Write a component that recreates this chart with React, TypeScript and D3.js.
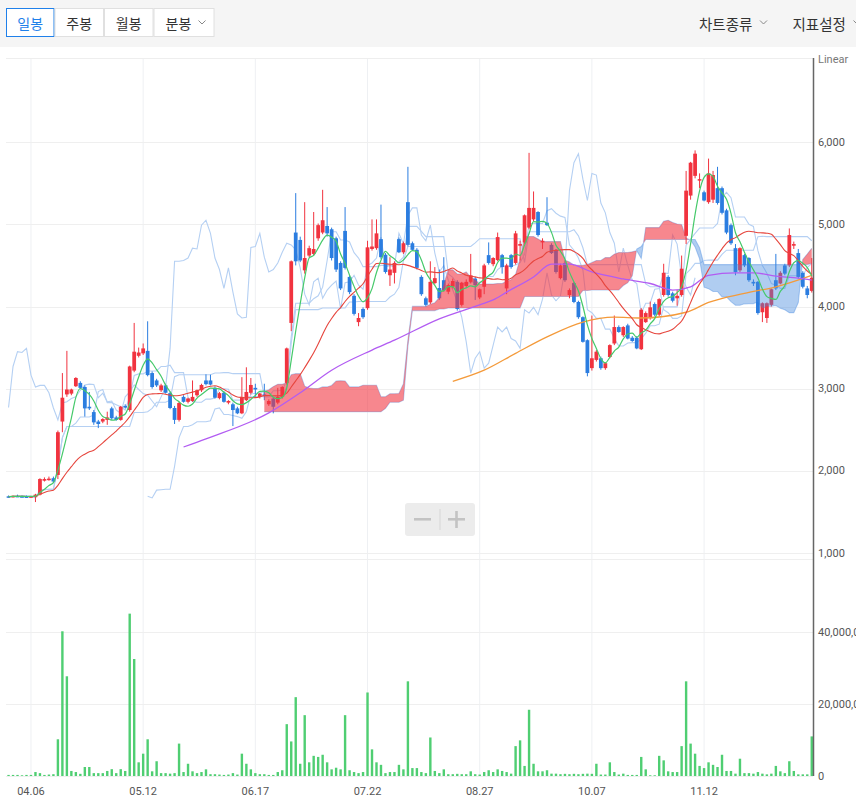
import React from 'react';
import * as d3 from 'd3';

// ---------- DATA ----------
const OPEN = [
  1690, 1685, 1695, 1690, 1688, 1680, 1680, 1710, 1880, 1890,
  1910, 1950, 2600, 2930, 2940, 3030, 3070, 3020, 2780, 2715,
  2600, 2600, 2620, 2760, 2650, 2620, 2790, 2740, 3220, 3400,
  3430, 3460, 3190, 3100, 2980, 3040, 2945, 2765, 2620, 2900,
  2840, 2850, 2920, 2980, 3100, 3100, 3010, 2885, 2950, 2830,
  2810, 2760, 2700, 2860, 2950, 3010, 2900, 2930, 2810, 2880,
  2830, 2900, 3070, 3800, 4900, 4810, 4440, 4620, 4640, 4830,
  4900, 4980, 4940, 4830, 4530, 4920, 4360, 4130, 3810, 3970,
  3980, 4700, 4710, 4820, 4630, 4380, 4410, 4820, 4660, 5270,
  4770, 4690, 4360, 4100, 4050, 4285, 4225, 4320, 4180, 4240,
  4300, 4020, 4250, 4300, 4340, 4110, 4240, 4625, 4515, 4565,
  4625, 4220, 4625, 4530, 4740, 4780, 4960, 5060, 5150, 4780,
  5020, 4750, 4690, 4345, 4530, 4140, 4285, 4055, 3870, 3590,
  3250, 3350, 3370, 3250, 3385, 3550, 3750, 3650, 3770, 3620,
  3620, 3480, 3810, 3860, 4030, 3900, 4140, 4360, 4160, 4100,
  4140, 4860, 5350, 5590, 5540, 5390, 5270, 5300, 5440, 5440,
  5170, 4990, 4710, 4440, 4625, 4590, 4300, 4300, 3930, 3860,
  4020, 4320, 4280, 4500, 4500, 4740, 4650, 4410, 4220, 4190,
];
const HIGH = [
  1700, 1700, 1710, 1700, 1700, 1695, 1720, 1910, 1920, 1930,
  1930, 2490, 3190, 3460, 3000, 3140, 3090, 3040, 2960, 2740,
  2620, 2640, 2720, 2780, 2670, 2790, 2810, 3280, 3800, 3500,
  3550, 3820, 3210, 3120, 3060, 3060, 2960, 2790, 2840, 2920,
  2890, 3100, 2990, 3060, 3175, 3170, 3030, 2960, 2970, 2860,
  2830, 2780, 3140, 3260, 3130, 3060, 2950, 3060, 2870, 2900,
  3010, 3030, 3500, 4560, 5380, 4850, 5270, 4740, 5150, 5010,
  5420, 5210, 4960, 4850, 4550, 5210, 4380, 4150, 3920, 3990,
  4800, 5060, 5060, 5240, 4650, 4600, 4550, 4840, 4790, 5700,
  4790, 4710, 4380, 4120, 4550, 4480, 4450, 4600, 4280, 4340,
  4320, 4300, 4330, 4640, 4360, 4220, 4520, 4780, 4600, 4900,
  4640, 4520, 4640, 4920, 4800, 5120, 5870, 5400, 5160, 4830,
  5330, 4770, 4700, 4520, 4560, 4220, 4300, 4070, 3880, 3600,
  3890, 3470, 3390, 3320, 3540, 3890, 3770, 3760, 3790, 3640,
  3640, 3980, 3940, 4060, 4050, 4100, 4520, 4380, 4180, 4200,
  4620, 5650, 5760, 5900, 5620, 5410, 5800, 5650, 5700, 5460,
  5190, 5010, 4760, 4720, 4640, 4600, 4330, 4310, 4050, 4050,
  4220, 4640, 4430, 4520, 4950, 4790, 4700, 4430, 4250, 4590,
];
const LOW = [
  1675, 1675, 1685, 1680, 1675, 1670, 1620, 1700, 1870, 1880,
  1850, 1900, 2470, 2900, 2920, 3020, 3000, 2660, 2740, 2560,
  2520, 2580, 2560, 2620, 2610, 2610, 2760, 2720, 3200, 3380,
  3410, 3150, 3000, 3020, 2960, 2940, 2750, 2570, 2600, 2830,
  2820, 2840, 2900, 2960, 3040, 3040, 2880, 2870, 2830, 2810,
  2545, 2690, 2690, 2850, 2930, 2900, 2880, 2860, 2790, 2700,
  2810, 2880, 3050, 3700, 4500, 4540, 4400, 4600, 4620, 4800,
  4880, 4850, 4560, 4420, 4200, 4450, 4150, 3890, 3760, 3850,
  3960, 4680, 4690, 4580, 4400, 4250, 4280, 4650, 4640, 4730,
  4680, 4450, 4130, 4000, 4030, 4270, 4080, 4180, 4150, 4220,
  3950, 4000, 4230, 4280, 4080, 4090, 4150, 4510, 4490, 4550,
  4400, 4150, 4460, 4510, 4560, 4760, 4940, 5040, 4850, 4700,
  4980, 4640, 4400, 4330, 4300, 4100, 4040, 3850, 3560, 3150,
  3220, 3330, 3230, 3230, 3370, 3530, 3680, 3630, 3600, 3570,
  3480, 3470, 3800, 3840, 3880, 3880, 4120, 4120, 4050, 4010,
  4120, 4760, 5300, 5560, 5440, 5280, 5250, 5260, 5240, 5120,
  4880, 4750, 4380, 4420, 4480, 4300, 4250, 3900, 3810, 3800,
  4000, 4200, 4270, 4380, 4480, 4700, 4340, 4220, 4100, 4170,
];
const CLOSE = [
  1685, 1695, 1690, 1688, 1680, 1690, 1710, 1900, 1900, 1905,
  1870, 2470, 2890, 2990, 2990, 3130, 3010, 2760, 2760, 2590,
  2570, 2630, 2650, 2640, 2620, 2780, 2770, 3270, 3450, 3440,
  3490, 3165, 3020, 3040, 3040, 2950, 2765, 2620, 2825, 2840,
  2880, 2900, 2980, 3045, 3055, 3050, 2890, 2945, 2840, 2850,
  2740, 2700, 2900, 2960, 3045, 2990, 2940, 2920, 2850, 2780,
  2900, 3020, 3490, 4550, 4550, 4560, 4590, 4710, 4700, 4990,
  5050, 4890, 4590, 4450, 4220, 4470, 4175, 3910, 3860, 3870,
  4720, 4730, 4890, 4600, 4420, 4450, 4530, 4660, 4770, 4750,
  4690, 4470, 4150, 4020, 4300, 4345, 4100, 4200, 4260, 4310,
  3970, 4290, 4300, 4380, 4260, 4210, 4500, 4530, 4590, 4845,
  4480, 4500, 4480, 4890, 4760, 5110, 5200, 5200, 4870, 4800,
  4990, 4650, 4420, 4500, 4320, 4200, 4055, 3870, 3570, 3190,
  3370, 3450, 3250, 3310, 3530, 3750, 3690, 3750, 3610, 3580,
  3490, 3960, 3920, 3990, 3900, 4090, 4410, 4140, 4070, 4130,
  4460, 5410, 5750, 5860, 5550, 5290, 5620, 5600, 5260, 5140,
  4900, 4770, 4420, 4710, 4500, 4320, 4280, 3920, 4040, 4040,
  4210, 4220, 4410, 4400, 4870, 4760, 4360, 4240, 4140, 4350,
];
// volume in millions of shares
const VOLUME_M = [
  0.3, 0.3, 0.3, 0.2, 0.3, 0.3, 1.1, 0.8, 0.3, 0.4,
  0.5, 10.2, 40.2, 27.7, 1.4, 1.1, 0.6, 2.5, 2.5, 0.8,
  0.8, 0.8, 1.4, 1.9, 0.8, 1.9, 1.4, 45.1, 32.5, 3.8,
  6.2, 10.2, 1.3, 4.1, 0.8, 0.8, 0.65, 0.8, 9.0, 1.1,
  3.4, 1.3, 0.8, 1.1, 1.85, 0.5, 0.5, 0.4, 0.3, 0.4,
  0.8, 0.4, 6.2, 3.4, 1.85, 0.8, 0.5, 0.5, 0.3, 0.3,
  1.1, 1.6, 14.4, 9.6, 21.9, 3.4, 16.9, 3.8, 5.6, 5.3,
  5.9, 3.8, 1.85, 2.3, 1.85, 16.9, 1.6, 1.1, 0.8, 1.1,
  23.2, 7.4, 3.8, 3.1, 0.8, 1.1, 1.1, 3.1, 1.85, 26.3,
  2.2, 2.2, 1.1, 0.8, 10.7, 1.4, 0.8, 1.85, 0.5, 0.5,
  0.6, 0.5, 0.5, 1.3, 0.5, 0.4, 1.1, 1.6, 1.1, 1.85,
  1.4, 1.1, 0.65, 8.3, 9.9, 2.8, 18.4, 3.4, 1.3, 1.3,
  1.6, 0.65, 0.65, 0.5, 0.6, 0.5, 0.6, 0.5, 0.6, 0.65,
  0.6, 3.4, 0.4, 0.4, 3.8, 1.1, 0.4, 0.65, 0.3, 0.3,
  0.3, 5.3, 1.85, 0.2, 0.2, 5.6, 4.35, 1.3, 1.1, 1.1,
  8.3, 26.3, 9.0, 6.2, 2.8, 2.2, 3.8, 3.1, 2.5, 5.9,
  1.4, 1.4, 0.65, 4.8, 0.8, 0.8, 0.65, 1.1, 0.65, 0.46,
  0.65, 2.8, 1.3, 0.8, 4.1, 1.4, 0.46, 0.46, 0.46, 11,
];
// long moving averages: [candle index, price]
const MA60_PTS: [number, number][] = [
  [39, 2290], [44, 2390], [58, 2705], [65, 2950], [72, 3225], [81, 3470],
  [86, 3590], [96, 3850], [105, 4020], [108, 4080], [111, 4175], [117, 4360],
  [121, 4515], [125, 4515], [130, 4420], [137, 4335], [143, 4280], [148, 4200],
  [152, 4240], [156, 4380], [162, 4410], [166, 4410], [171, 4370], [176, 4345], [179, 4320],
];
const MA120_PTS: [number, number][] = [
  [99, 3090], [106, 3225], [113, 3430], [120, 3630], [128, 3810], [135, 3870],
  [141, 3860], [151, 3930], [156, 4050], [164, 4160], [171, 4240], [179, 4380],
];
const DATE_TICK_INDEX = [5, 30, 55, 80, 105, 130, 155];
const DATE_TICK_LABELS = ['04.06', '05.12', '06.17', '07.22', '08.27', '10.07', '11.12'];
const PRICE_TICKS = [1000, 2000, 3000, 4000, 5000, 6000];
const VOLUME_TICKS_M = [0, 20, 40];
const PERIOD_TABS = ['일봉', '주봉', '월봉', '분봉'];
const RIGHT_MENUS = ['차트종류', '지표설정'];

// ---------- helpers ----------
const sma = (vals: number[], n: number) =>
  vals.map((_, i) => d3.mean(vals.slice(Math.max(0, i - n + 1), i + 1)) as number);
const mid = (i: number, n: number) => {
  const a = Math.max(0, i - n + 1);
  return ((d3.max(HIGH.slice(a, i + 1)) as number) + (d3.min(LOW.slice(a, i + 1)) as number)) / 2;
};

const UP = '#f1333f';
const DOWN = '#2b7de0';
const LIGHT = '#b5d0f3';
const KR = '"Noto Sans CJK KR", "Noto Sans", sans-serif';
const NUM = 'Roboto, "Noto Sans", sans-serif';

export default function App() {
  const N = CLOSE.length;
  const xb = d3.scaleBand<number>().domain(d3.range(N)).range([6.3, 814]);
  const bw = xb.bandwidth();
  const cx = (i: number) => (xb(i) as number) + bw / 2;
  const y = d3.scaleLinear().domain([1000, 7000]).range([553, 60]);
  const yv = d3.scaleLinear().domain([0, 40]).range([776, 632]);

  const ma5 = sma(CLOSE, 5);
  const ma20 = sma(CLOSE, 20);
  const SHIFT = 26;
  const tenkan = d3.range(N).map((i) => mid(i, 9));
  const kijun = d3.range(N).map((i) => mid(i, 26));
  const spanA = d3.range(N).map((i) => (i - SHIFT >= 5 ? (tenkan[i - SHIFT] + kijun[i - SHIFT]) / 2 : null));
  const spanB = d3.range(N).map((i) => (i - SHIFT >= 31 ? mid(i - SHIFT, 52) : null));
  const chikou = d3.range(N).map((i) => (i + SHIFT < N ? CLOSE[i + SHIFT] : null));

  const seriesLine = d3
    .line<number | null>()
    .defined((d) => d != null)
    .x((_, i) => cx(i))
    .y((d) => y(d as number));
  const smoothLine = d3
    .line<number | null>()
    .defined((d) => d != null)
    .x((_, i) => cx(i))
    .y((d) => y(d as number))
    .curve(d3.curveMonotoneX);
  const ptLine = d3
    .line<[number, number]>()
    .x((d) => cx(d[0]))
    .y((d) => y(d[1]))
    .curve(d3.curveMonotoneX);

  // cloud polygons between leading span A and B
  type Pt = [number, number];
  const runs: { up: boolean; a: Pt[]; b: Pt[] }[] = [];
  let cur: { up: boolean; a: Pt[]; b: Pt[] } | null = null;
  for (let i = 0; i < N; i++) {
    const A = spanA[i];
    const B = spanB[i];
    if (A == null || B == null) continue;
    const up = A >= B;
    const xa = cx(i);
    if (!cur) {
      cur = { up, a: [[xa, A]], b: [[xa, B]] };
      runs.push(cur);
      continue;
    }
    if (up !== cur.up) {
      const Ap = spanA[i - 1] as number;
      const Bp = spanB[i - 1] as number;
      const d0 = Ap - Bp;
      const d1 = A - B;
      const t = d0 / (d0 - d1);
      const xp = cx(i - 1);
      const xc = xp + t * (xa - xp);
      const vc = Ap + t * (A - Ap);
      cur.a.push([xc, vc]);
      cur.b.push([xc, vc]);
      cur = { up, a: [[xc, vc]], b: [[xc, vc]] };
      runs.push(cur);
    }
    cur.a.push([xa, A]);
    cur.b.push([xa, B]);
  }
  const polyLine = d3.line<Pt>().x((d) => d[0]).y((d) => y(d[1]));

  const bodyW = bw * 0.84;

  return (
    <div style={{ position: 'absolute', left: 0, top: 0, width: 856, height: 807, overflow: 'hidden', background: '#fff' }}>
      <svg width={856} height={807} style={{ display: 'block' }}>
        <defs>
          <clipPath id="pclip">
            <rect x={6} y={58} width={807.5} height={495} />
          </clipPath>
          <clipPath id="vclip">
            <rect x={6} y={559} width={807.5} height={217} />
          </clipPath>
        </defs>
        <rect x={0} y={0} width={856} height={807} fill="#fff" />
        {/* header */}
        <rect x={0} y={0} width={856} height={47} fill="#f5f5f5" />
        {PERIOD_TABS.map((t, k) => {
          const xs = [6, 54.5, 104, 153.5, 214.5];
          const x0 = xs[k];
          const x1 = xs[k + 1];
          return (
            <g key={t}>
              <rect x={x0 + 0.5} y={8.5} width={x1 - x0 - 1} height={28} fill="#fff" stroke={k === 0 ? '#1f80ea' : '#e0e0e0'} strokeWidth={1} />
              <text
                x={k === 3 ? x0 + 25 : (x0 + x1) / 2}
                y={23}
                textAnchor="middle"
                dominantBaseline="central"
                fontFamily={KR}
                fontSize={14}
                fill={k === 0 ? '#1f80ea' : '#333'}
              >
                {t}
              </text>
              {k === 3 && <path d={`M${x0 + 45},${20.5} L${x0 + 48.5},${24} L${x0 + 52},${20.5}`} fill="none" stroke="#888" strokeWidth={1} />}
            </g>
          );
        })}
        {RIGHT_MENUS.map((t, k) => {
          const x0 = k === 0 ? 699 : 792.5;
          return (
            <g key={t}>
              <text x={x0} y={23} dominantBaseline="central" fontFamily={KR} fontSize={14.5} fill="#333">
                {t}
              </text>
              <path d={`M${x0 + 61},${20.5} L${x0 + 64.5},${24} L${x0 + 68},${20.5}`} fill="none" stroke="#888" strokeWidth={1} />
            </g>
          );
        })}

        {/* grid */}
        {DATE_TICK_INDEX.map((i) => (
          <line key={'vg' + i} x1={cx(i)} x2={cx(i)} y1={58} y2={776} stroke="#eef0f3" strokeWidth={1} />
        ))}
        <line x1={6} x2={813} y1={58.5} y2={58.5} stroke="#eeeeee" />
        {PRICE_TICKS.map((p) => (
          <line key={'pg' + p} x1={6} x2={813} y1={Math.round(y(p)) + 0.5} y2={Math.round(y(p)) + 0.5} stroke="#efefef" />
        ))}
        <line x1={6} x2={813} y1={559.5} y2={559.5} stroke="#efefef" />
        {VOLUME_TICKS_M.map((v) => (
          <line key={'vgl' + v} x1={6} x2={813} y1={Math.round(yv(v)) + 0.5} y2={Math.round(yv(v)) + 0.5} stroke="#efefef" />
        ))}

        {/* price panel */}
        <g clipPath="url(#pclip)">
          {/* ichimoku lines */}
          <path d={seriesLine(tenkan) || ''} fill="none" stroke={LIGHT} strokeWidth={1.1} />
          <path d={seriesLine(kijun) || ''} fill="none" stroke={LIGHT} strokeWidth={1.1} />
          <path d={seriesLine(chikou) || ''} fill="none" stroke={LIGHT} strokeWidth={1.1} />
          <path d={seriesLine(spanA) || ''} fill="none" stroke={LIGHT} strokeWidth={1.1} />
          <path d={seriesLine(spanB) || ''} fill="none" stroke={LIGHT} strokeWidth={1.1} />
          {/* candles */}
          {CLOSE.map((c, i) => {
            const o = OPEN[i];
            const col = c >= o ? UP : DOWN;
            const top = y(Math.max(o, c));
            const bot = y(Math.min(o, c));
            return (
              <g key={'c' + i}>
                <line x1={cx(i)} x2={cx(i)} y1={y(HIGH[i])} y2={y(LOW[i])} stroke={col} strokeWidth={1} />
                <rect x={cx(i) - bodyW / 2} y={top} width={bodyW} height={Math.max(1.5, bot - top)} fill={col} />
              </g>
            );
          })}
          {/* cloud */}
          {runs.map((r, k) => (
            <path
              key={'k' + k}
              d={(polyLine([...r.a, ...r.b.slice().reverse()]) || '') + 'Z'}
              fill={r.up ? 'rgba(242,55,66,0.6)' : 'rgba(66,135,222,0.42)'}
              stroke="none"
            />
          ))}
          {/* moving averages */}
          <path d={ptLine(MA120_PTS) || ''} fill="none" stroke="#f49a3a" strokeWidth={1.3} />
          <path d={ptLine(MA60_PTS) || ''} fill="none" stroke="#b25cf2" strokeWidth={1.3} />
          <path d={smoothLine(ma20) || ''} fill="none" stroke="#e6453d" strokeWidth={1.1} />
          <path d={smoothLine(ma5) || ''} fill="none" stroke="#45c96a" strokeWidth={1.2} />
        </g>

        {/* volume */}
        <g clipPath="url(#vclip)">
          {VOLUME_M.map((v, i) => (
            <rect key={'v' + i} x={cx(i) - 1.2} y={yv(v)} width={2.4} height={yv(0) - yv(v)} fill="#4fce72" />
          ))}
        </g>

        {/* axis */}
        <line x1={813.5} x2={813.5} y1={58} y2={776} stroke="#666" strokeWidth={1.5} />
        <text x={818} y={59} dominantBaseline="central" fontFamily={NUM} fontSize={11} fill="#777">
          Linear
        </text>
        {PRICE_TICKS.map((p) => (
          <text key={'pt' + p} x={818} y={y(p)} dominantBaseline="central" fontFamily={NUM} fontSize={11} fill="#555">
            {d3.format(',')(p)}
          </text>
        ))}
        {VOLUME_TICKS_M.map((v) => (
          <text key={'vt' + v} x={818} y={yv(v)} dominantBaseline="central" fontFamily={NUM} fontSize={11} fill="#555">
            {d3.format(',')(v * 1e6)}
          </text>
        ))}
        {DATE_TICK_INDEX.map((i, k) => (
          <text key={'dt' + i} x={cx(i)} y={791} textAnchor="middle" dominantBaseline="central" fontFamily={NUM} fontSize={11} fill="#555">
            {DATE_TICK_LABELS[k]}
          </text>
        ))}

        {/* zoom control */}
        <g>
          <rect x={405} y={503} width={70} height={33} rx={3} fill="#ececec" />
          <line x1={440} x2={440} y1={509} y2={530} stroke="#d6d6d6" />
          <rect x={414} y={518} width={17} height={2.6} fill="#c3c3c3" />
          <rect x={448} y={518} width={17} height={2.6} fill="#c3c3c3" />
          <rect x={455.2} y={511} width={2.6} height={17} fill="#c3c3c3" />
        </g>
      </svg>
    </div>
  );
}
